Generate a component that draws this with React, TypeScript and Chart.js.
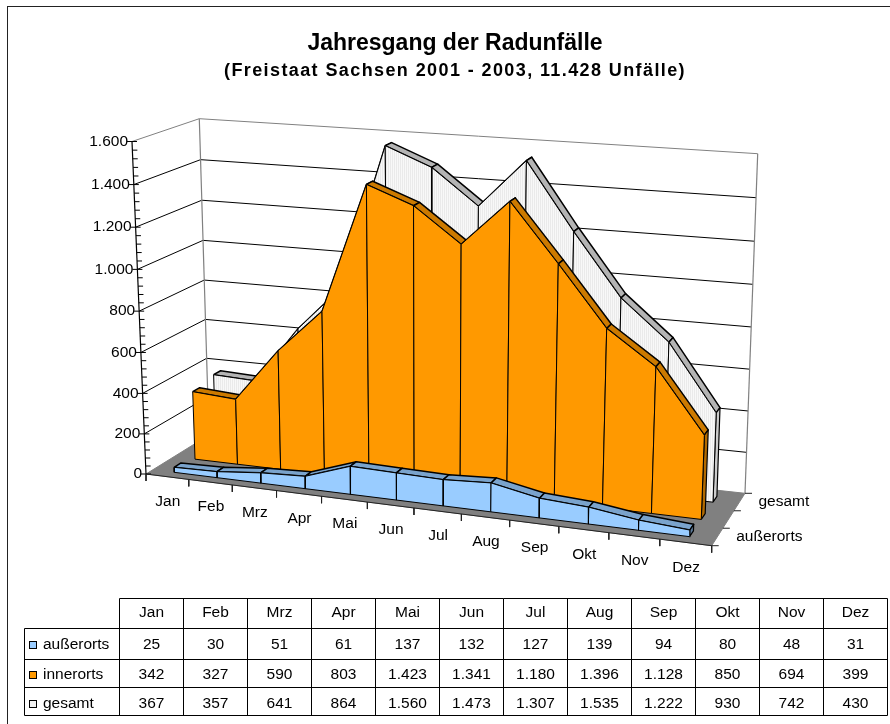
import React, { useEffect, useRef } from "react";
import { Chart, registerables } from "chart.js";

Chart.register(...registerables);

const months = ["Jan", "Feb", "Mrz", "Apr", "Mai", "Jun", "Jul", "Aug", "Sep", "Okt", "Nov", "Dez"];
const ausserorts = [25, 30, 51, 61, 137, 132, 127, 139, 94, 80, 48, 31];
const innerorts = [342, 327, 590, 803, 1423, 1341, 1180, 1396, 1128, 850, 694, 399];
const gesamt = [367, 357, 641, 864, 1560, 1473, 1307, 1535, 1222, 930, 742, 430];
const seriesNames = ["außerorts", "innerorts", "gesamt"];
const valueTicks = [0, 200, 400, 600, 800, 1000, 1200, 1400, 1600];
const TITLE = "Jahresgang der Radunfälle";
const SUBTITLE = "(Freistaat Sachsen 2001 - 2003, 11.428 Unfälle)";
const FONT = "'Liberation Sans', Arial, sans-serif";

const fmt = (n: number) => String(n).replace(/\B(?=(\d{3})+$)/g, ".");

// Corners of the 3D box as they appear on the picture
const F0 = [146, 474], F1 = [711.7, 545.7], B0 = [209, 435], B1 = [745, 493.3];
const T0 = [132, 141.5], T1 = [726.7, 188.7], U0 = [199.3, 118.7], U1 = [757.7, 153.7];
const PX_X = 47.14, PX_Y = 332.5 / 1600;
const VMAX = 1600, WU = 0.9, WV = 0.96;
const AREA = { left: 100, right: 890, top: 82, bottom: 600 };
const TITLE_SHIFT = 20;

const lerp = (a: number, b: number, t: number) => a + (b - a) * t;
const warp = (t: number, w: number) => (t * w) / (1 + (w - 1) * t);
const toUnits = (px: number, py: number) => ({ x: (px - F0[0]) / PX_X, y: (F0[1] - py) / PX_Y });

// u: position along the categories (0..12), v: value, d: depth (0..1)
function project(u: number, v: number, d: number) {
  const a = warp(u / 12, WU + 0.02 * d), b = warp(v / VMAX, WV);
  const corner = (k: number) => {
    const bot = lerp(lerp(F0[k], F1[k], a), lerp(B0[k], B1[k], a), d);
    const top = lerp(lerp(T0[k], T1[k], a), lerp(U0[k], U1[k], a), d);
    return lerp(bot, top, b);
  };
  return toUnits(corner(0), corner(1));
}
const shift = (p: { x: number; y: number }, dx: number, dy: number) => ({ x: p.x + dx / PX_X, y: p.y - dy / PX_Y });

function poly(pts: { x: number; y: number }[], stroke: string, width: number, fillStyle?: any) {
  const data = fillStyle ? [...pts, pts[0]] : pts;
  return {
    data,
    showLine: true,
    fill: fillStyle ? "shape" : false,
    backgroundColor: fillStyle || "transparent",
    borderColor: stroke,
    borderWidth: width,
    borderJoinStyle: "round",
    pointRadius: 0,
    tension: 0,
    clip: false,
  };
}

function buildDatasets(stripes: any) {
  const out: any[] = [];
  const GRAY = "#808080";
  // floor
  out.push(poly([project(0, 0, 0), project(12, 0, 0), project(12, 0, 1), project(0, 0, 1)], GRAY, 1, GRAY));
  // gridlines on the side wall and the back wall
  valueTicks.forEach((v) => {
    if (v === 0) return;
    const edge = v === VMAX ? GRAY : "#000";
    out.push(poly([project(0, v, 0), project(0, v, 1), project(12, v, 1)], edge, 1));
  });
  out.push(poly([project(0, 0, 1), project(0, VMAX, 1)], GRAY, 1.2));
  out.push(poly([project(12, 0, 1), project(12, VMAX, 1)], GRAY, 1.2));
  // value axis and its ticks
  out.push(poly([project(0, 0, 0), project(0, VMAX, 0)], "#000", 1.2));
  for (let v = 0; v <= VMAX; v += 40) {
    const p = project(0, v, 0);
    out.push(poly([shift(p, v % 200 === 0 ? -5 : 0, 0), shift(p, 5, 0)], "#000", 1));
  }
  // category axis and its ticks
  out.push(poly([project(0, 0, 0), project(12, 0, 0)], "#222", 1));
  for (let i = 0; i <= 12; i++) {
    const p = project(i, 0, 0);
    out.push(poly([p, shift(p, 0, 7)], "#222", 1));
  }
  // depth axis ticks
  for (let i = 0; i <= 3; i++) {
    const p = project(12, 0, i / 3);
    out.push(poly([p, shift(p, 7, 0)], "#222", 1));
  }
  // series from the back to the front
  const styles = [
    { values: ausserorts, slot: 0, front: "#99CCFF", band: "#7AA3CC", end: "#5C7A99" },
    { values: innerorts, slot: 1, front: "#FF9900", band: "#CC7A00", end: "#B36B00" },
    { values: gesamt, slot: 2, front: stripes, band: "#B4B4B4", end: "#CCCCCC" },
  ];
  [...styles].reverse().forEach((s) => {
    const d0 = (s.slot + 1 / 3) / 3, d1 = (s.slot + 2 / 3) / 3;
    const P = (i: number, v: number, d: number) => project(i + 0.5, v, d);
    const last = s.values.length - 1;
    for (let i = 0; i < last; i++) {
      out.push(poly([P(i, s.values[i], d0), P(i + 1, s.values[i + 1], d0), P(i + 1, s.values[i + 1], d1), P(i, s.values[i], d1)], "#000", 1.5, s.band));
    }
    out.push(poly([P(last, 0, d0), P(last, s.values[last], d0), P(last, s.values[last], d1), P(last, 0, d1)], "#000", 1.2, s.end));
    for (let i = 0; i < last; i++) {
      out.push(poly([P(i, 0, d0), P(i + 1, 0, d0), P(i + 1, s.values[i + 1], d0), P(i, s.values[i], d0)], "#000", 1, s.front));
    }
  });
  return out.reverse();
}

const chartPlugin = {
  id: "sketch3d",
  afterLayout(chart: any) {
    const sub = chart.boxes.find((b: any) => b.options && b.options.text === SUBTITLE);
    if (sub && !sub.__patched) {
      sub.__patched = true;
      const draw = sub.draw.bind(sub);
      sub.draw = (a: any) => {
        const c = chart.ctx;
        c.save();
        c.letterSpacing = "1.4px";
        draw(a);
        c.restore();
      };
    }
  },
  beforeDraw(chart: any) {
    const { ctx, scales } = chart;
    const { x, y } = scales;
    // outer frame
    ctx.save();
    ctx.strokeStyle = "#222";
    ctx.lineWidth = 1;
    ctx.strokeRect(7.5, 6.5, 1000, 1000);
    ctx.restore();
    // the axis labels follow the slanted edges of the 3D box
    y.getLabelItems(chart.chartArea).forEach((it: any, i: number) => {
      const p = project(0, y.ticks[i].value, 0);
      it.textOffset = 0;
      it.options.textAlign = "right";
      it.options.textBaseline = "middle";
      it.options.translation = [x.getPixelForValue(p.x) - 4, y.getPixelForValue(p.y)];
    });
    x.getLabelItems(chart.chartArea).forEach((it: any, i: number) => {
      const p = project(x.ticks[i].value + 0.5, 0, 0);
      it.textOffset = 0;
      it.options.textAlign = "center";
      it.options.textBaseline = "middle";
      it.options.translation = [x.getPixelForValue(p.x) + 0.5, y.getPixelForValue(p.y) + 25];
    });
  },
  afterDraw(chart: any) {
    const { ctx, scales } = chart;
    const { x, y } = scales;
    ctx.save();
    ctx.fillStyle = "#000";
    ctx.font = `15.5px ${FONT}`;
    ctx.textBaseline = "middle";
    // labels of the depth axis (the middle one does not fit)
    ctx.textAlign = "left";
    [0, 2].forEach((s) => {
      const p = project(12, 0, (s + 0.5) / 3);
      ctx.fillText(seriesNames[s], x.getPixelForValue(p.x) + 19, y.getPixelForValue(p.y));
    });
    // data table
    const colX = (k: number) => Math.round(119 + 64.02 * k) + 0.5;
    const rowY = [598.5, 628.5, 659.5, 687.5, 715.5];
    const headBase = 617, baseY = [649, 679, 708];
    const left = 24.5, right = colX(12);
    ctx.strokeStyle = "#000";
    ctx.lineWidth = 1;
    ctx.beginPath();
    rowY.forEach((r, i) => {
      ctx.moveTo(i === 0 ? colX(0) : left, r);
      ctx.lineTo(right, r);
    });
    months.forEach((_, k) => {
      ctx.moveTo(colX(k), rowY[0]);
      ctx.lineTo(colX(k), rowY[4]);
    });
    ctx.moveTo(right, rowY[0]);
    ctx.lineTo(right, rowY[4]);
    ctx.moveTo(left, rowY[1]);
    ctx.lineTo(left, rowY[4]);
    ctx.stroke();
    ctx.textBaseline = "alphabetic";
    ctx.textAlign = "center";
    months.forEach((m, k) => ctx.fillText(m, colX(k) + 32, headBase));
    const swatch = ["#99CCFF", "#FF9900", "#F0F0F0"];
    [ausserorts, innerorts, gesamt].forEach((vals, r) => {
      ctx.fillStyle = "#000";
      ctx.textAlign = "center";
      vals.forEach((v, k) => ctx.fillText(fmt(v), colX(k) + 32, baseY[r]));
      ctx.textAlign = "left";
      ctx.fillText(seriesNames[r], 43, baseY[r]);
      ctx.fillStyle = swatch[r];
      ctx.fillRect(29.5, baseY[r] - 7.5, 7, 7);
      ctx.strokeRect(29.5, baseY[r] - 7.5, 7, 7);
    });
    ctx.restore();
  },
};

export default function App() {
  const ref = useRef<HTMLCanvasElement>(null);
  useEffect(() => {
    document.body.style.margin = "0";
    const tile = document.createElement("canvas");
    tile.width = 2;
    tile.height = 2;
    const t = tile.getContext("2d")!;
    t.fillStyle = "#F8F8F8";
    t.fillRect(0, 0, 2, 2);
    t.fillStyle = "#EAEAEA";
    t.fillRect(0, 0, 1, 2);
    const stripes = ref.current!.getContext("2d")!.createPattern(tile, "repeat");
    const chart = new Chart(ref.current!, {
      type: "scatter",
      data: { datasets: buildDatasets(stripes) },
      plugins: [chartPlugin],
      options: {
        responsive: false,
        animation: false,
        events: [],
        layout: { padding: { left: TITLE_SHIFT } },
        plugins: {
          legend: { display: false },
          tooltip: { enabled: false },
          title: {
            display: true,
            text: TITLE,
            color: "#000",
            font: { family: FONT, size: 23, weight: "bold", lineHeight: 1 },
            padding: { top: 32, bottom: 0 },
          },
          subtitle: {
            display: true,
            text: SUBTITLE,
            color: "#000",
            font: { family: FONT, size: 18, weight: "bold", lineHeight: 1 },
            padding: { top: 7, bottom: 2 },
          },
        },
        scales: {
          x: {
            type: "linear",
            bounds: "data",
            min: (AREA.left - F0[0]) / PX_X,
            max: (AREA.right - F0[0]) / PX_X,
            grid: { display: false },
            border: { display: false },
            afterFit: (s: any) => { s.height = 724 - AREA.bottom; },
            afterBuildTicks: (s: any) => { s.ticks = months.map((_, i) => ({ value: i })); },
            ticks: {
              autoSkip: false,
              mirror: true,
              maxRotation: 0,
              minRotation: 0,
              color: "#000",
              font: { family: FONT, size: 15.5 },
              callback: (v: any) => months[v] ?? "",
            },
          },
          y: {
            type: "linear",
            bounds: "data",
            min: (F0[1] - AREA.bottom) / PX_Y,
            max: (F0[1] - AREA.top) / PX_Y,
            grid: { display: false },
            border: { display: false },
            afterFit: (s: any) => { s.width = AREA.left - TITLE_SHIFT; },
            afterBuildTicks: (s: any) => { s.ticks = valueTicks.map((value) => ({ value })); },
            ticks: {
              autoSkip: false,
              mirror: true,
              color: "#000",
              font: { family: FONT, size: 15.5 },
              callback: (v: any) => fmt(v),
            },
          },
        },
      } as any,
    });
    return () => chart.destroy();
  }, []);
  return <canvas ref={ref} width={890} height={724} style={{ display: "block" }} />;
}
